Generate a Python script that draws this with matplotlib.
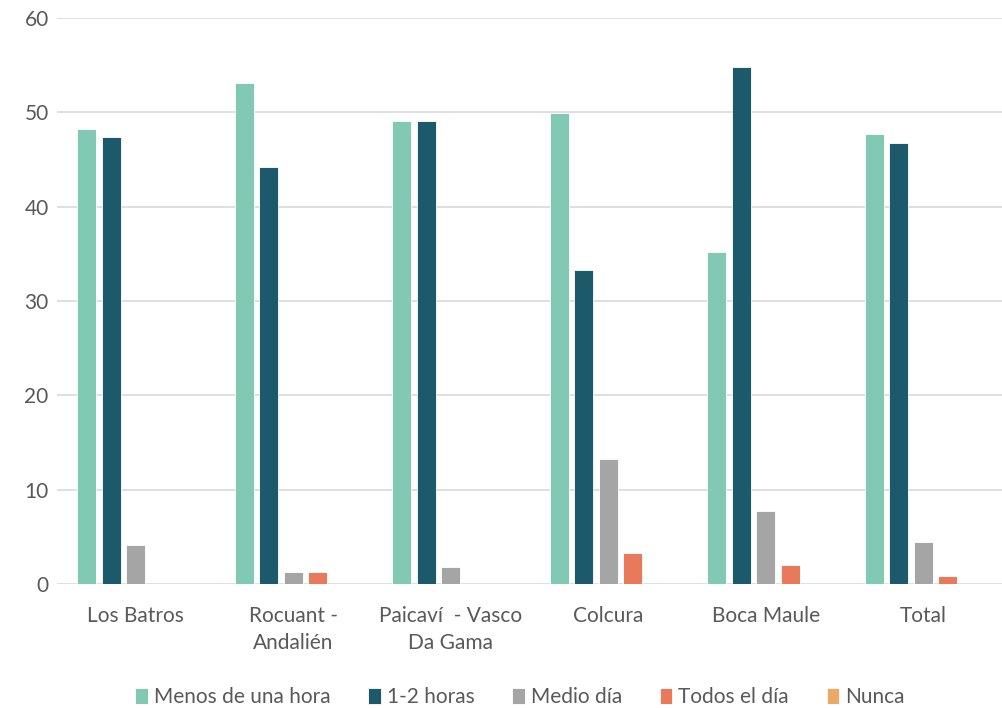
import numpy as np
import matplotlib.pyplot as plt

categorias = ["Los Batros", "Rocuant -\nAndalién", "Paicaví  - Vasco\nDa Gama",
              "Colcura", "Boca Maule", "Total"]
series = ["Menos de una hora", "1-2 horas", "Medio día", "Todos el día", "Nunca"]
menos_hora = [48.2, 53.1, 49.1, 49.9, 35.2, 47.7]
una_dos = [47.4, 44.2, 49.1, 33.3, 54.8, 46.8]
medio_dia = [4.1, 1.3, 1.8, 13.3, 7.7, 4.5]
todo_dia = [0, 1.3, 0, 3.3, 2.0, 0.85]
nunca = [0, 0, 0, 0, 0, 0]
colores = ["#82C9B3", "#1C5A6B", "#A5A5A5", "#E8795A", "#EDA864"]

plt.rcParams['font.family'] = ['Lato', 'DejaVu Sans']

def main():
    valores = [menos_hora, una_dos, medio_dia, todo_dia, nunca]
    fig = plt.figure(figsize=(10.02, 7.08), dpi=100)
    ax = fig.add_axes([57 / 1002, 1 - 584 / 708, 1 - 57 / 1002, (584 - 18) / 708])
    x = np.arange(len(categorias))
    paso = 0.156
    ancho = 0.121
    for i, (nombre, vals) in enumerate(zip(series, valores)):
        ax.bar(x + (i - 2) * paso, vals, ancho, color=colores[i], label=nombre,
               edgecolor="white", linewidth=0.6, zorder=3)
    ax.set_xlim(-0.5, len(categorias) - 0.5)
    ax.set_ylim(0, 60)
    ax.set_yticks(range(0, 61, 10))
    ax.grid(axis="y", color="#D9D9D9", linewidth=1.2, zorder=0)
    for s in ax.spines.values():
        s.set_visible(False)
    ax.tick_params(length=0, colors="#595959", labelsize=15)
    ax.tick_params(axis="y", pad=6)
    ax.tick_params(axis="x", pad=16)
    ax.set_xticks(x)
    ax.set_xticklabels(categorias, color="#595959", fontsize=15, linespacing=1.45)
    ax.legend(loc="center", bbox_to_anchor=(0.49, -0.2), ncol=5, frameon=False,
              fontsize=15, labelcolor="#595959", handlelength=0.6, handleheight=0.8,
              handletextpad=0.3, columnspacing=1.8)
    plt.savefig("out.png", dpi=100)

if __name__ == "__main__":
    main()
